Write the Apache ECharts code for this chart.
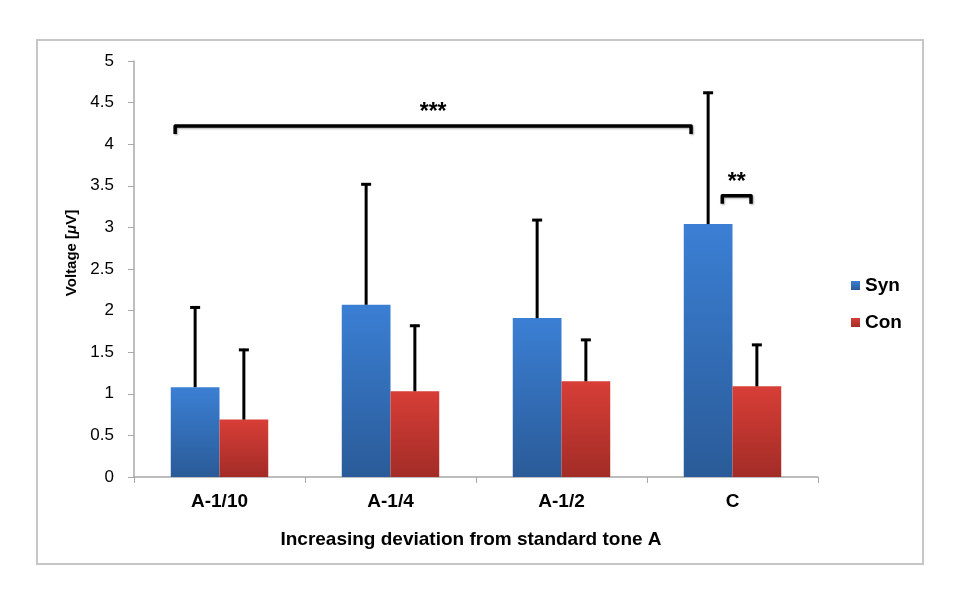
<!DOCTYPE html>
<html>
<head>
<meta charset="utf-8">
<script src="https://cdn.jsdelivr.net/npm/echarts@6/dist/echarts.min.js"></script>
<style>html,body{margin:0;padding:0;background:#fff;}#c{width:968px;height:603px;}</style>
</head>
<body>
<div id="c"></div>
<script>
const categories = ['A-1/10', 'A-1/4', 'A-1/2', 'C'];
const synMean = [1.08, 2.07, 1.91, 3.04];
const synErrTop = [2.05, 3.53, 3.10, 4.63];
const conMean = [0.69, 1.03, 1.15, 1.09];
const conErrTop = [1.54, 1.83, 1.66, 1.60];
const yTicks = [0, 0.5, 1, 1.5, 2, 2.5, 3, 3.5, 4, 4.5, 5];
const bracketFrom = [0, 3];
const bracketTo = [3, 3];
const bracketLevel = [4.22, 3.38];
const bracketLabel = ['***', '**'];

const FONT = '"Liberation Sans", Arial, Helvetica, sans-serif';
const CAT_GAP = 0.43;

function grad(top, bottom) {
  return new echarts.graphic.LinearGradient(0, 0, 0, 1, [
    { offset: 0, color: top }, { offset: 1, color: bottom }
  ]);
}

function errRender(sign) {
  return function (params, api) {
    const c = api.value(0);
    const base = api.coord([c, api.value(1)]);
    const top = api.coord([c, api.value(2)]);
    const band = api.size([1, 0])[0];
    const bw = band * (1 - CAT_GAP) / 2;
    const x = base[0] + sign * bw / 2;
    const st = { stroke: '#000', lineWidth: 3 };
    return {
      type: 'group',
      children: [
        { type: 'line', shape: { x1: x, y1: base[1], x2: x, y2: top[1] }, style: st },
        { type: 'line', shape: { x1: x - 5, y1: top[1] + 1, x2: x + 5, y2: top[1] + 1 }, style: st }
      ]
    };
  };
}

// bracket end insets relative to the bar centers, in units of bar width
const bracketInsets = [[-0.41, -0.35], [0.29, -0.12]];
const bracketSides = [[-1, -1], [-1, 1]];

function bracketRender(params, api) {
  const i = params.dataIndex;
  const p1 = api.coord([api.value(0), api.value(2)]);
  const p2 = api.coord([api.value(1), api.value(2)]);
  const band = api.size([1, 0])[0];
  const bw = band * (1 - CAT_GAP) / 2;
  const x1 = p1[0] + bracketSides[i][0] * bw / 2 + bracketInsets[i][0] * bw;
  const x2 = p2[0] + bracketSides[i][1] * bw / 2 + bracketInsets[i][1] * bw;
  const y = p1[1];
  const st = { stroke: '#000', lineWidth: 3.5, fill: null, shadowBlur: 2, shadowColor: 'rgba(0,0,0,0.35)', shadowOffsetX: 1, shadowOffsetY: 1, lineJoin: 'round' };
  return {
    type: 'group',
    children: [
      { type: 'polyline', shape: { points: [[x1, y + 8], [x1, y], [x2, y], [x2, y + 8]] }, style: st },
      { type: 'text', x: (x1 + x2) / 2, y: y - 13, style: { text: bracketLabel[i], font: 'bold 23px ' + FONT, fill: '#000', align: 'center', verticalAlign: 'middle' } }
    ]
  };
}

const chart = echarts.init(document.getElementById('c'), null, { renderer: 'canvas' });
chart.setOption({
  animation: false,
  backgroundColor: '#fff',
  graphic: [{
    type: 'rect', shape: { x: 37, y: 40, width: 886, height: 524 },
    style: { fill: 'none', stroke: '#c6c6c6', lineWidth: 2 }, z: -1
  }],
  grid: { left: 134, right: 150, top: 61, bottom: 126 },
  legend: {
    orient: 'vertical', left: 846, top: 271, itemGap: 18, itemWidth: 9, itemHeight: 9,
    icon: 'rect',
    textStyle: { fontFamily: FONT, fontWeight: 'bold', fontSize: 19, color: '#000' },
    data: ['Syn', 'Con']
  },
  xAxis: {
    type: 'category', data: categories,
    axisLine: { lineStyle: { color: '#a8a8a8', width: 1.5 } },
    axisTick: { show: true, length: 6, lineStyle: { color: '#a8a8a8' } },
    axisLabel: { fontFamily: FONT, fontWeight: 'bold', fontSize: 19, color: '#000', margin: 15 },
    name: 'Increasing deviation from standard tone A', nameLocation: 'middle', nameGap: 53,
    nameTextStyle: { fontFamily: FONT, fontWeight: 'bold', fontSize: 19, color: '#000', padding: [0, 10, 0, 0] }
  },
  yAxis: {
    type: 'value', min: 0, max: 5, interval: 0.5,
    axisLine: { show: true, lineStyle: { color: '#a8a8a8', width: 1.5 } },
    axisTick: { show: true, length: 6, lineStyle: { color: '#a8a8a8' } },
    splitLine: { show: false },
    axisLabel: { fontFamily: FONT, fontSize: 17, color: '#000', margin: 20,
      formatter: function (v) { return yTicks.indexOf(v) >= 0 ? String(v) : ''; } },
    name: 'Voltage [{i|μ}V]', nameLocation: 'middle', nameGap: 49, nameRotate: 90,
    nameTextStyle: { fontFamily: FONT, fontWeight: 'bold', fontSize: 15, color: '#000',
      padding: [0, 0, 0, 32],
      rich: { i: { fontFamily: FONT, fontWeight: 'bold', fontStyle: 'italic', fontSize: 15, color: '#000' } } }
  },
  series: [
    { name: 'Syn', type: 'bar', data: synMean, barGap: '0%', barCategoryGap: (CAT_GAP * 100) + '%',
      itemStyle: { color: grad('#3b7fd4', '#2a5b98') } },
    { name: 'Con', type: 'bar', data: conMean, barGap: '0%', barCategoryGap: (CAT_GAP * 100) + '%',
      itemStyle: { color: grad('#d73e36', '#a32c27') } },
    { type: 'custom', renderItem: errRender(-1), z: 5,
      encode: { x: 0, y: [1, 2] },
      data: synMean.map((m, i) => [i, m, synErrTop[i]]) },
    { type: 'custom', renderItem: errRender(1), z: 5,
      encode: { x: 0, y: [1, 2] },
      data: conMean.map((m, i) => [i, m, conErrTop[i]]) },
    { type: 'custom', renderItem: bracketRender, z: 6,
      encode: { x: [0, 1], y: 2 },
      data: bracketFrom.map((f, i) => [f, bracketTo[i], bracketLevel[i]]) }
  ]
});
</script>
</body>
</html>
